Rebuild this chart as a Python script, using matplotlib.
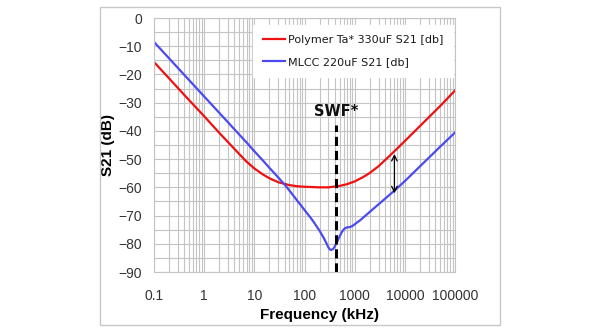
import matplotlib
matplotlib.use("Agg")
import matplotlib.pyplot as plt
from matplotlib.patches import Rectangle
from matplotlib.ticker import FixedLocator, NullFormatter

# ---- data ----
freq_red = [0.1, 0.2, 0.5, 1, 2, 3, 5, 7, 10, 15, 20, 30, 50, 70, 100, 200, 300,
            500, 700, 1000, 1500, 2000, 3000, 5000, 7000, 10000, 15000, 20000,
            30000, 50000, 100000]
s21_red = [-15.6, -21.4, -29.1, -34.8, -40.7, -44.0, -48.2, -50.9, -53.3, -55.5,
           -56.8, -58.2, -59.2, -59.6, -59.8, -60.0, -60.0, -59.5, -58.9, -57.9,
           -56.3, -54.9, -52.5, -48.8, -46.3, -43.6, -40.5, -38.3, -35.2, -31.3,
           -25.7]

freq_blue = [0.1, 0.2, 0.5, 1, 2, 3, 5, 7, 10, 15, 20, 30, 40, 50, 70, 100, 130,
             150, 200, 250, 280, 300, 320, 340, 370, 400, 450, 500, 560, 630,
             700, 800, 900, 1000, 1300, 2000, 3000, 4000, 6350, 10000, 25000,
             50000, 100000]
s21_blue = [-8.5, -14.3, -22.0, -27.8, -33.6, -37.0, -41.3, -44.1, -47.2, -50.6,
            -53.1, -56.5, -59.0, -61.1, -64.5, -68.0, -70.6, -72.1, -75.4, -78.4,
            -80.2, -81.3, -82.0, -82.2, -81.9, -81.0, -79.2, -77.4, -75.7, -74.6,
            -74.2, -74.1, -73.7, -73.1, -71.6, -68.7, -66.0, -64.1, -61.0, -57.8,
            -50.9, -45.7, -40.6]

label_red = "Polymer Ta* 330uF S21 [db]"
label_blue = "MLCC 220uF S21 [db]"

x_ticks = [0.1, 1, 10, 100, 1000, 10000, 100000]
x_ticklabels = ["0.1", "1", "10", "100", "1000", "10000", "100000"]
y_ticks = [0, -10, -20, -30, -40, -50, -60, -70, -80, -90]

swf_freq = 425
swf_top = -38.0
swf_label = "SWF*"
swf_label_y = -33.0

arrow_freq = 6200
arrow_top = -48.2
arrow_bottom = -62.1

# ---- figure ----
fig = plt.figure(figsize=(6, 3.3), dpi=100)
ax = fig.add_axes([154/600, 1-272/330, 301/600, 254/330])

grid_c = "#c4c4c4"
ax.set_xscale("log")
ax.set_xlim(0.1, 100000)
ax.set_ylim(-90, 0)

ax.xaxis.set_major_locator(FixedLocator(x_ticks))
ax.set_xticklabels(x_ticklabels)
minor = [m * d for d in [0.1, 1, 10, 100, 1000, 10000] for m in range(2, 10)]
ax.xaxis.set_minor_locator(FixedLocator(minor))
ax.xaxis.set_minor_formatter(NullFormatter())
ax.set_yticks(y_ticks)
ax.set_yticks([v - 5 for v in y_ticks[:-1]], minor=True)

ax.grid(True, which="major", color=grid_c, lw=0.8)
ax.grid(True, which="minor", color=grid_c, lw=0.8)
ax.set_axisbelow(True)
for s in ax.spines.values():
    s.set_color(grid_c)
    s.set_linewidth(0.8)

ax.tick_params(which="both", length=0)
ax.tick_params(axis="x", pad=12)
ax.tick_params(axis="y", pad=8.5)
for lab in ax.get_xticklabels() + ax.get_yticklabels():
    lab.set_fontfamily("Liberation Sans")
    lab.set_fontsize(10)
    lab.set_color("#333333")

ax.plot(freq_red, s21_red, color="#ee1111", lw=1.6, label=label_red,
        solid_joinstyle="round")
ax.plot(freq_blue, s21_blue, color="#4a4af0", lw=1.6, label=label_blue,
        solid_joinstyle="round")

ax.plot([swf_freq, swf_freq], [-90, swf_top], color="black", lw=2.2,
        dashes=(3, 1.6), clip_on=False)
ax.text(swf_freq, swf_label_y, swf_label, ha="center", va="center",
        fontsize=10.5, fontweight="bold", family="DejaVu Sans", color="#111111")

ax.annotate("", xy=(arrow_freq, arrow_top), xytext=(arrow_freq, arrow_bottom),
            arrowprops=dict(arrowstyle="<->", color="black", lw=0.9,
                            shrinkA=0, shrinkB=0))

leg = ax.legend(loc="upper right", bbox_to_anchor=(0.993, 0.972),
                prop={"family": "DejaVu Sans", "size": 8}, frameon=True,
                fancybox=False, framealpha=1, facecolor="white",
                edgecolor="white", handlelength=2.0, handletextpad=0.25,
                labelspacing=1.1, borderpad=0.9, borderaxespad=0)
for t in leg.get_texts():
    t.set_color("#1a1a1a")

ax.set_xlabel("Frequency (kHz)", family="Liberation Sans", fontweight="bold",
              fontsize=11, va="center")
ax.xaxis.set_label_coords((319-154)/301, (272-315)/254)
ax.set_ylabel("S21 (dB)", family="Liberation Sans", fontweight="bold",
              fontsize=11, va="center")
ax.yaxis.set_label_coords((108-154)/301, 0.5)

fig.add_artist(Rectangle((100/600, 1-325/330), 400/600, 318/330,
                         transform=fig.transFigure, fill=False,
                         edgecolor="#c8c8c8", lw=1))

fig.savefig("out.png", dpi=100)
